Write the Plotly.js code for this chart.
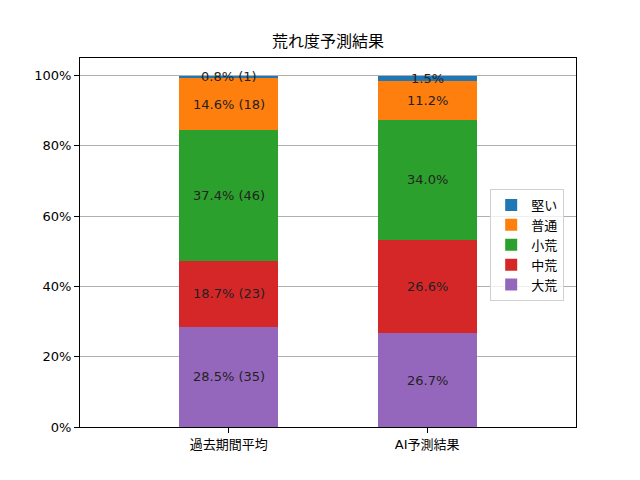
<!DOCTYPE html>
<html>
<head>
<meta charset="utf-8">
<script src="https://cdn.plot.ly/plotly-3.0.1.min.js"></script>
<style>
  html, body { margin: 0; padding: 0; background: #fff; }
  #chart { width: 640px; height: 480px; }
</style>
</head>
<body>
<div id="chart"></div>
<script>
'use strict';

// data
const categories = ['過去期間平均', 'AI予測結果'];
const levels = ['大荒', '中荒', '小荒', '普通', '堅い'];   // bottom -> top
const pastPct = [28.5, 18.7, 37.4, 14.6, 0.8];
const pastCount = [35, 23, 46, 18, 1];
const aiPct = [26.7, 26.6, 34.0, 11.2, 1.5];
const colors = ['#9467bd', '#d62728', '#2ca02c', '#ff7f0e', '#1f77b4'];
const yTicks = [0, 20, 40, 60, 80, 100];

const FONT = '"DejaVu Sans", "Noto Sans CJK JP", sans-serif';

let traces = [];
let annotations = [];
let base = [0, 0];

for (let i = 0; i < levels.length; i++) {
    let vals = [pastPct[i], aiPct[i]];
    traces.push({
        type: 'bar',
        name: levels[i],
        x: categories,
        y: vals,
        width: 0.5,
        marker: {color: colors[i], line: {width: 0}},
        hoverinfo: 'skip'
    });

    // labels in the middle of each segment
    let labels = [
        pastPct[i].toFixed(1) + '% (' + pastCount[i] + ')',
        aiPct[i].toFixed(1) + '%'
    ];
    for (let c = 0; c < categories.length; c++) {
        annotations.push({
            x: categories[c],
            y: base[c] + vals[c] / 2,
            xref: 'x', yref: 'y',
            text: labels[c],
            showarrow: false,
            font: {family: FONT, size: 13, color: '#222'}
        });
        base[c] += vals[c];
    }
}

let layout = {
    width: 640,
    height: 480,
    barmode: 'stack',
    paper_bgcolor: '#fff',
    plot_bgcolor: '#fff',
    font: {family: FONT, size: 13, color: '#000'},
    margin: {l: 80, r: 64, t: 58, b: 53, pad: 0},
    title: {
        text: '荒れ度予測結果',
        font: {family: FONT, size: 16, color: '#000'},
        x: 0.5, xref: 'paper',
        y: 1, yref: 'container', yanchor: 'top', pad: {t: 36}
    },
    xaxis: {
        type: 'category',
        range: [-0.75, 1.75],
        showline: true, mirror: true, linecolor: '#000', linewidth: 1,
        ticks: 'outside', ticklen: 5, tickcolor: '#000',
        showgrid: false, zeroline: false,
        fixedrange: true
    },
    yaxis: {
        range: [0, 105],
        tickvals: yTicks,
        ticktext: yTicks.map(v => v + '%'),
        showline: true, mirror: true, linecolor: '#000', linewidth: 1,
        ticks: 'outside', ticklen: 5, tickcolor: '#000',
        showgrid: true, gridcolor: '#b0b0b0', gridwidth: 1,
        zeroline: false,
        fixedrange: true
    },
    legend: {
        x: 0.827, y: 0.645, xanchor: 'left', yanchor: 'top',
        traceorder: 'reversed',
        bgcolor: 'rgba(255,255,255,0.8)',
        bordercolor: '#d0d0d0', borderwidth: 1,
        font: {family: FONT, size: 13}
    },
    annotations: annotations
};

Plotly.newPlot('chart', traces, layout, {displayModeBar: false, staticPlot: true});
</script>
</body>
</html>
